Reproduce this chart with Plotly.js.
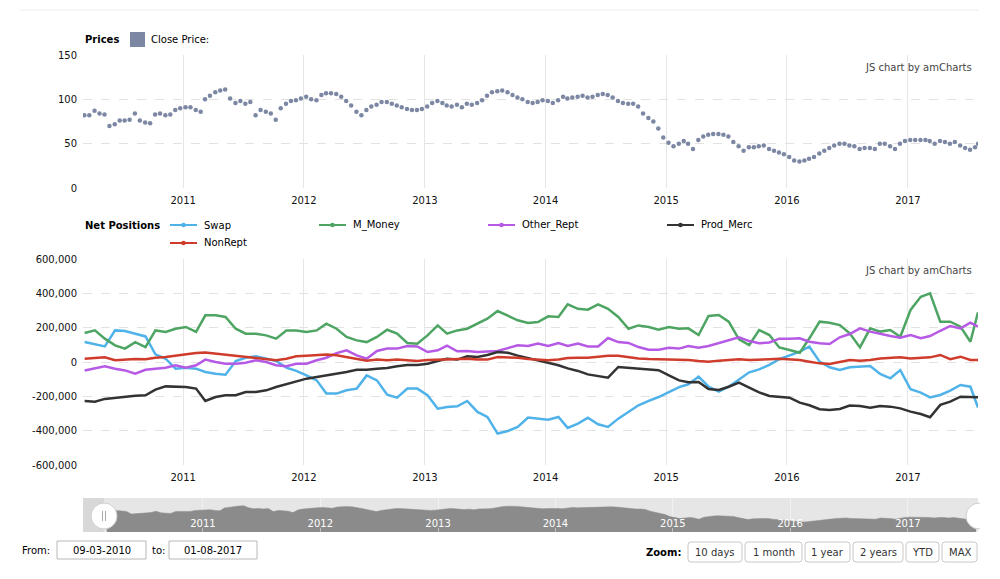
<!DOCTYPE html>
<html><head><meta charset="utf-8">
<script src="https://cdn.plot.ly/plotly-3.0.1.min.js"></script>
<style>html,body{margin:0;padding:0;background:#fff}#chart{width:1000px;height:579px}</style>
</head><body><div id="chart"></div>
<script>
// ---------------- DATA ----------------
// Close price, two readings per month (Mar 2010 .. Jul 2017) + 1 Aug 2017
const closePrice = [
  82,82, 87,84, 83,70, 72,76, 76,77, 84,76, 74,73, 83,84, 82,83, 88,90,
  91,91, 88,86, 100,104, 108,110, 111,101, 96,98, 95,97, 82,88, 86,84, 77,90, 95,98, 99,101,
  103,100, 99,105, 107,107, 106,103, 98,93, 86,82, 88,92, 94,97, 97,95, 93,91, 89,88, 88,89,
  92,96, 98,96, 93,92, 94,91, 95,94, 96,99, 104,108, 109,110, 108,105, 102,100, 97,96, 97,99,
  98,96, 99,103, 101,102, 103,104, 102,103, 105,106, 105,102, 98,96, 95,95, 92,84, 79,75, 67,57,
  51,47, 50,53, 50,44, 54,58, 60,61, 61,60, 58,52, 47,42, 46,46, 47,48, 44,42, 40,38,
  35,31, 30,31, 33,35, 39,42, 45,48, 50,50, 48,47, 44,45, 45,44, 50,50, 47,44, 50,53,
  54,54, 54,54, 53,50, 53,52, 50,52, 48,45, 43,46, 50
];
// Net positions (thousands of contracts), monthly Mar 2010 .. Aug 2017
const swap = [
  116,103,91,184,180,165,149,45,19,-39,
  -33,-39,-58,-68,-74,6,25,33,19,6,
  -33,-52,-78,-107,-184,-184,-165,-155,-78,-107,
  -190,-208,-155,-155,-194,-272,-262,-258,-227,-291,
  -320,-417,-402,-378,-324,-330,-336,-320,-384,-359,
  -324,-363,-378,-330,-291,-252,-227,-204,-175,-146,
  -130,-85,-144,-173,-144,-101,-60,-43,-17,16,
  37,60,89,2,-31,-47,-31,-27,-23,-70,
  -95,-47,-159,-178,-206,-192,-167,-134,-144,-265
];
const mMoney = [
  169,184,136,97,78,116,87,184,175,194,
  204,175,272,272,262,194,165,165,155,136,
  184,184,175,184,223,194,146,126,116,146,
  188,165,111,107,155,213,165,184,194,223,
  252,297,272,243,227,233,266,262,336,310,
  305,336,310,262,194,213,204,188,204,194,
  196,157,268,274,235,132,99,186,157,85,
  70,54,138,235,229,215,167,85,196,177,
  186,147,303,380,400,235,235,206,118,290
];
const otherRept = [
  -49,-39,-25,-39,-49,-68,-45,-39,-33,-19,
  -33,-19,14,0,-10,-10,-4,10,0,-19,
  -25,-10,-10,10,25,52,68,39,19,64,
  78,78,93,91,58,68,95,62,64,58,
  62,64,81,97,93,107,93,111,93,107,
  91,91,140,116,111,87,72,72,83,78,
  93,83,93,109,128,144,122,109,114,136,
  136,138,118,109,105,144,163,196,177,163,
  151,142,157,138,151,182,210,196,229,206
];
const prodMerc = [
  -227,-231,-215,-208,-200,-196,-194,-161,-142,-142,
  -146,-155,-227,-204,-194,-194,-175,-175,-165,-146,
  -130,-116,-97,-87,-78,-68,-58,-45,-45,-39,
  -35,-25,-17,-17,-10,6,19,14,33,29,
  41,58,54,37,23,12,-2,-19,-37,-52,
  -72,-83,-91,-29,-33,-39,-41,-48,-78,-107,
  -118,-116,-157,-163,-144,-120,-149,-177,-198,-202,
  -208,-237,-252,-275,-279,-274,-254,-256,-266,-256,
  -260,-270,-289,-303,-322,-250,-231,-202,-202,-206
];
const nonRept = [
  19,25,27,10,14,17,16,25,29,37,
  45,52,56,49,41,35,29,23,17,10,
  19,33,37,41,43,39,29,17,8,14,
  10,14,8,6,12,14,12,14,19,14,
  14,29,27,25,17,14,10,14,23,25,
  25,31,37,37,27,21,17,16,14,10,
  12,6,2,8,12,16,12,16,16,19,
  17,12,2,-8,-12,0,12,8,12,21,
  23,27,21,23,27,41,16,31,12,12
];
const seriesNames = ['Swap','M_Money','Other_Rept','Prod_Merc','NonRept'];
const seriesValues = [swap, mMoney, otherRept, prodMerc, nonRept];
const seriesColors = ['#4fb2e9','#4ea563','#b65ae6','#333333','#d03c2c'];
const yearTickVals = ['2011-01-01','2012-01-01','2013-01-01','2014-01-01','2015-01-01','2016-01-01','2017-01-01'];
const yearTickText = ['2011','2012','2013','2014','2015','2016','2017'];
const priceTickVals = [0,50,100,150];
const netTickVals = [-600000,-400000,-200000,0,200000,400000,600000];
const netTickText = ['-600,000','-400,000','-200,000','0','200,000','400,000','600,000'];
const fromDate = '09-03-2010', toDate = '01-08-2017';
const zoomButtons = ['10 days','1 month','1 year','2 years','YTD','MAX'];

// ---------------- DATES ----------------
function pad(n){return (n<10?'0':'')+n;}
const monthDates = [];
for (let m = 0; m < 89; m++) { const t = 2 + m; monthDates.push((2010 + Math.floor(t/12)) + '-' + pad(t%12+1) + '-09'); }
monthDates.push('2017-08-01');
const priceDates = [];
for (let k = 0; k < 178; k++) { const t = 2 + Math.floor(k/2); priceDates.push((2010 + Math.floor(t/12)) + '-' + pad(t%12+1) + '-' + (k%2 ? '23' : '08')); }
priceDates.push('2017-08-01');

// ---------------- LAYOUT HELPERS ----------------
const W = 1000, H = 579;
const P = x => x / W, Q = y => 1 - y / H;
const FONT = 'DejaVu Sans, Verdana, sans-serif';
function rect(x0,y0,x1,y1,fill,line,lw){return {type:'rect',xref:'paper',yref:'paper',x0:P(x0),x1:P(x1),y0:Q(y1),y1:Q(y0),fillcolor:fill,line:{color:line||fill,width:lw===undefined?0:lw},layer:'above'};}
function rrect(x0,y0,x1,y1,r,fill,line){
  const X=P, Y=Q, rx=r, ry=r;
  const d = `M ${X(x0+rx)},${Y(y0)} L ${X(x1-rx)},${Y(y0)} Q ${X(x1)},${Y(y0)} ${X(x1)},${Y(y0+ry)} L ${X(x1)},${Y(y1-ry)} Q ${X(x1)},${Y(y1)} ${X(x1-rx)},${Y(y1)} L ${X(x0+rx)},${Y(y1)} Q ${X(x0)},${Y(y1)} ${X(x0)},${Y(y1-ry)} L ${X(x0)},${Y(y0+ry)} Q ${X(x0)},${Y(y0)} ${X(x0+rx)},${Y(y0)} Z`;
  return {type:'path',xref:'paper',yref:'paper',path:d,fillcolor:fill,line:{color:line,width:1},layer:'above'};
}
function circ(cx,cy,r,fill,line,lw){return {type:'circle',xref:'paper',yref:'paper',x0:P(cx-r),x1:P(cx+r),y0:Q(cy+r),y1:Q(cy-r),fillcolor:fill,line:{color:line,width:lw||0},layer:'above'};}
function hline(x0,x1,y,color,w){return {type:'line',xref:'paper',yref:'paper',x0:P(x0),x1:P(x1),y0:Q(y),y1:Q(y),line:{color:color,width:w},layer:'above'};}
function vline(x,y0,y1,color,w){return {type:'line',xref:'paper',yref:'paper',x0:P(x),x1:P(x),y0:Q(y0),y1:Q(y1),line:{color:color,width:w},layer:'above'};}
function txt(x,y,text,anchor,size,color,bold){return {xref:'paper',yref:'paper',x:P(x),y:Q(y),xanchor:anchor||'left',yanchor:'middle',text:bold?'<b>'+text+'</b>':text,showarrow:false,font:{family:FONT,size:size||10,color:color||'#000'}};}

// ---------------- TRACES ----------------
const traces = [];
traces.push({type:'scatter',mode:'markers',x:priceDates,y:closePrice,xaxis:'x',yaxis:'y',
  marker:{color:'#7c87a3',size:4.5},hoverinfo:'skip'});
seriesValues.forEach((vals,i)=>{
  traces.push({type:'scatter',mode:'lines',x:monthDates,y:vals.map(v=>v*1000),xaxis:'x2',yaxis:'y2',
    line:{color:seriesColors[i],width:2.5},name:seriesNames[i],hoverinfo:'skip'});
});
traces.push({type:'scatter',mode:'lines',x:priceDates,y:closePrice,xaxis:'x3',yaxis:'y3',
  fill:'tozeroy',fillcolor:'#8b8b8b',line:{color:'#8b8b8b',width:0.5},hoverinfo:'skip'});

// ---------------- AXES ----------------
const xRange = ['2010-03-04','2017-08-01'];
const xBase = {type:'date',range:xRange,domain:[P(83),P(978)],tickvals:yearTickVals,ticktext:yearTickText,
  showgrid:true,gridcolor:'#e6e6e6',gridwidth:1,zeroline:false,showline:false,ticks:'',
  tickfont:{family:FONT,size:10,color:'#111'},fixedrange:true,ticklabelstandoff:5};
const yBase = {showgrid:true,gridcolor:'#e2e2e2',griddash:'dash',zeroline:false,showline:false,ticks:'',
  tickfont:{family:FONT,size:10,color:'#111'},fixedrange:true,ticklabelstandoff:5};

const shapes = [];
// header separator
shapes.push(hline(20,978,10,'#ececec',1));
// scrollbar background
shapes.push(Object.assign(rect(83,498,978,532,'#e6e6e6'),{layer:'below'}));
shapes.push(Object.assign(rect(83,498,104,532,'#d8d8d8'),{layer:'below'}));
// scrollbar area base below zero
shapes.push({type:'rect',xref:'x3',yref:'y3',x0:priceDates[0],x1:priceDates[priceDates.length-1],y0:-20,y1:0,fillcolor:'#8b8b8b',line:{width:0},layer:'below'});
// handles
shapes.push(circ(104,516,13,'#ffffff','#cfcfcf',1));
shapes.push(vline(102.5,511,521,'#aaaaaa',1));
shapes.push(vline(105.5,511,521,'#aaaaaa',1));
shapes.push(circ(979,516,13,'#ffffff','#cfcfcf',1));
shapes.push(rect(980,495,1000,537,'#ffffff'));
// price legend square
shapes.push(rect(130,32,145,47,'#7c87a3'));

const annotations = [];
annotations.push(txt(83,40,'Prices','left',10,'#000',true));
annotations.push(txt(149,40,'Close Price:','left',10,'#000'));
annotations.push(txt(974,67,'JS chart by amCharts','right',10,'#444'));
annotations.push(txt(974,270,'JS chart by amCharts','right',10,'#444'));
annotations.push(txt(83,225,'Net Positions','left',10,'#000',true));

// net positions legend
const legPos = [[170,225],[319,225],[488,225],[667,225],[170,243]];
seriesNames.forEach((n,i)=>{
  const [lx,ly] = legPos[i];
  shapes.push(hline(lx,lx+27,ly,seriesColors[i],2));
  shapes.push(circ(lx+13.5,ly,2.3,seriesColors[i],seriesColors[i],0));
  annotations.push(txt(lx+32,ly,n,'left',10,'#000'));
});

// bottom controls
annotations.push(txt(20,550,'From:','left',10,'#000'));
shapes.push(rect(57,541,146,559,'#ffffff','#b8b8b8',1));
annotations.push(txt(101.5,550,fromDate,'center',10,'#000'));
annotations.push(txt(150,550,'to:','left',10,'#000'));
shapes.push(rect(169,541,257,559,'#ffffff','#b8b8b8',1));
annotations.push(txt(213,550,toDate,'center',10,'#000'));
annotations.push(txt(683,552,'Zoom:','right',10,'#000',true));
const btnX = [[688,742],[745,802],[805,850],[853,903],[906,939],[942,977]];
zoomButtons.forEach((b,i)=>{
  shapes.push(rrect(btnX[i][0],542,btnX[i][1],562,3,'#ffffff','#c8c8c8'));
  annotations.push(txt((btnX[i][0]+btnX[i][1])/2,552,b,'center',10,'#333'));
});

const layout = {
  width:W,height:H,margin:{l:0,r:0,t:0,b:0},
  paper_bgcolor:'#ffffff',plot_bgcolor:'rgba(0,0,0,0)',showlegend:false,
  font:{family:FONT,size:10,color:'#111'},
  xaxis:Object.assign({},xBase,{anchor:'y'}),
  yaxis:Object.assign({},yBase,{domain:[Q(188),Q(55)],range:[0,150],tickvals:priceTickVals,anchor:'x'}),
  xaxis2:Object.assign({},xBase,{anchor:'y2'}),
  yaxis2:Object.assign({},yBase,{domain:[Q(465),Q(259)],range:[-600000,600000],tickvals:netTickVals,ticktext:netTickText,anchor:'x2'}),
  xaxis3:Object.assign({},xBase,{anchor:'y3',range:['2009-12-24','2017-08-07'],ticklabelposition:'inside',ticklabelstandoff:0,
    gridcolor:'rgba(255,255,255,0.45)',tickfont:{family:FONT,size:10,color:'#ffffff'}}),
  yaxis3:{domain:[Q(532),Q(498)],range:[-20,150],visible:false,showgrid:false,zeroline:false,fixedrange:true,anchor:'x3'},
  shapes:shapes,annotations:annotations
};
Plotly.newPlot('chart',traces,layout,{displayModeBar:false,staticPlot:true});
</script></body></html>
